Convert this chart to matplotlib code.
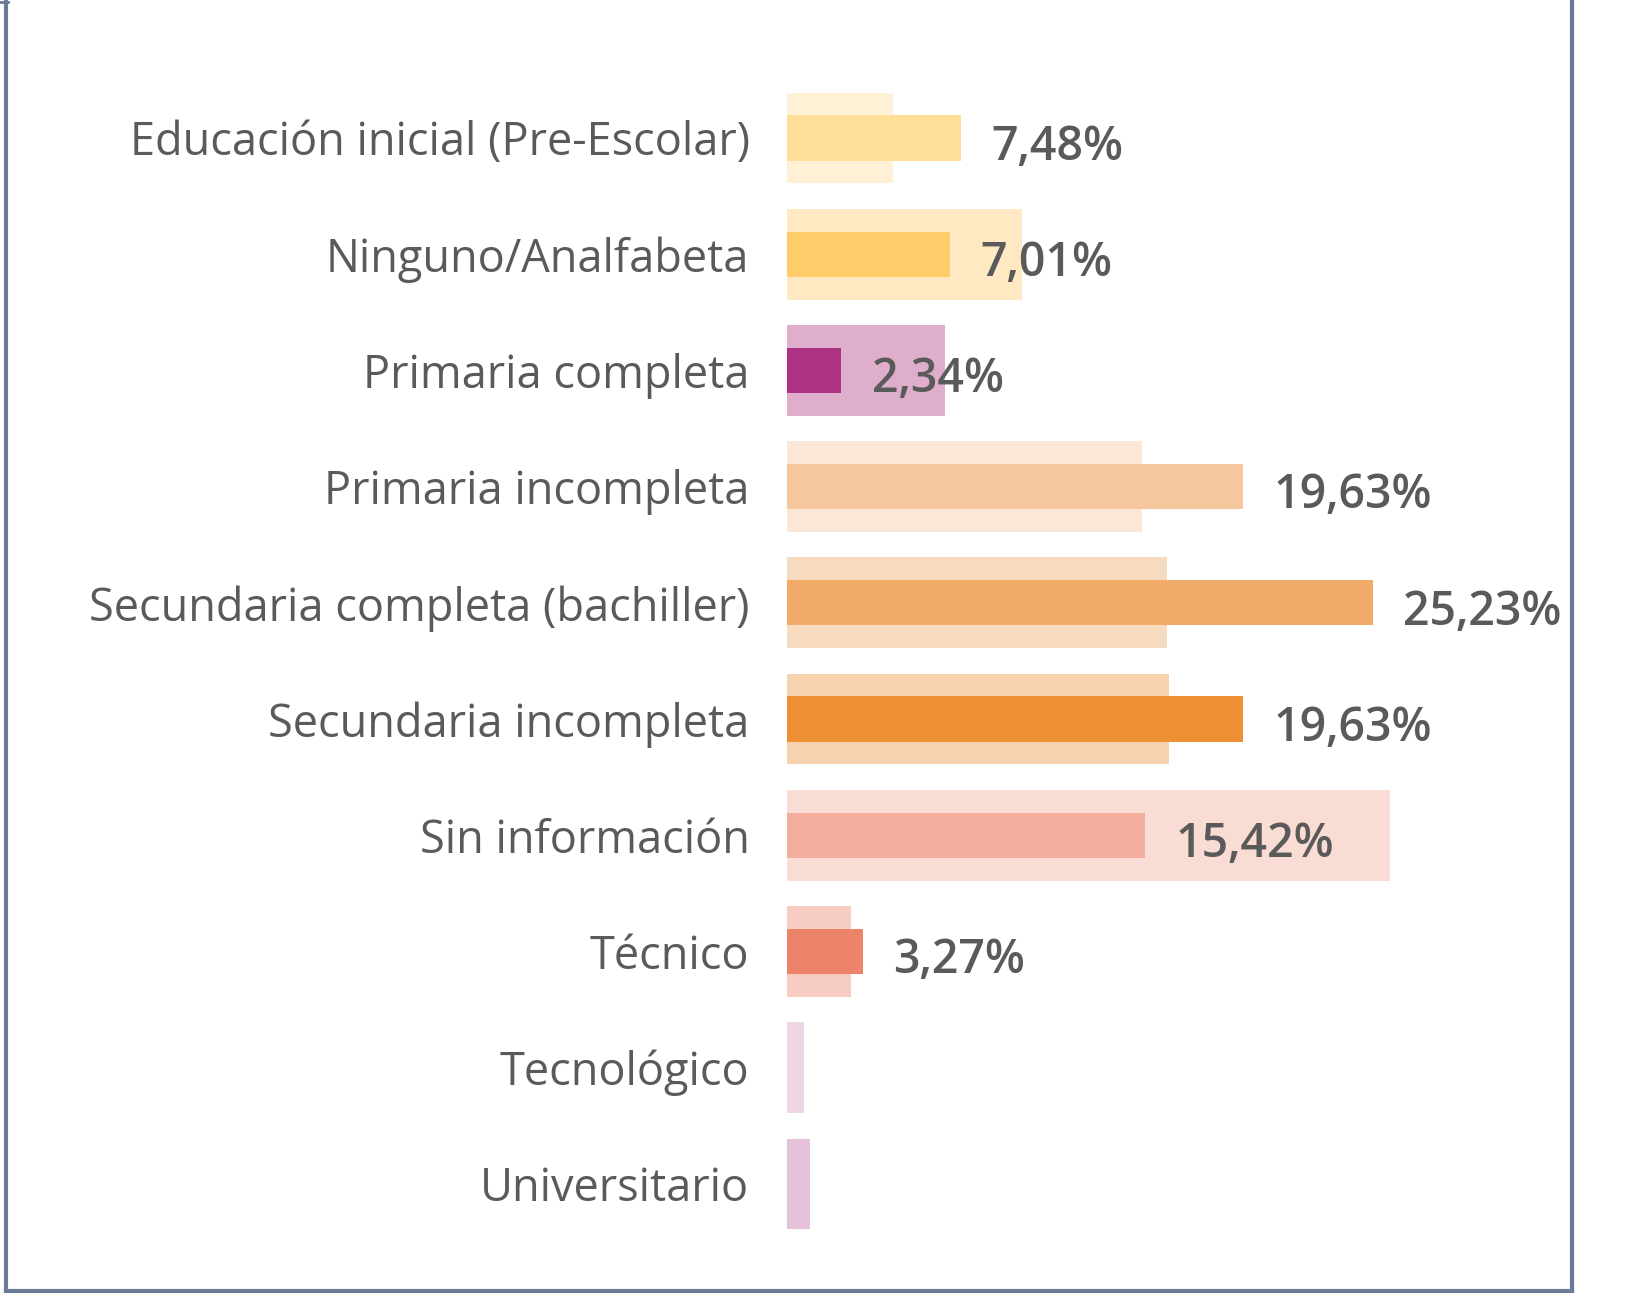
import numpy as np
import matplotlib.pyplot as plt
from matplotlib.lines import Line2D

categories = ["Educación inicial (Pre-Escolar)", "Ninguno/Analfabeta", "Primaria completa",
              "Primaria incompleta", "Secundaria completa (bachiller)", "Secundaria incompleta",
              "Sin información", "Técnico", "Tecnológico", "Universitario"]
values = [7.48, 7.01, 2.34, 19.63, 25.23, 19.63, 15.42, 3.27, 0.0, 0.0]
reference = [4.57, 10.1, 6.79, 15.3, 16.35, 16.44, 25.95, 2.76, 0.72, 1.0]
labels = ["7,48%", "7,01%", "2,34%", "19,63%", "25,23%", "19,63%", "15,42%", "3,27%", "", ""]

fg_colors = ["#FFDE9A", "#FECD6A", "#AE3284", "#F5C79C", "#F0AB68", "#ED8F33",
             "#F3AD9C", "#EC836A", "#EFD6E7", "#E5C2DA"]
bg_colors = ["#FFF0D6", "#FFE9C3", "#DFAECD", "#FAE7D7", "#F7DBBF", "#F6D3AE",
             "#F9DDD5", "#F7CCC1", "#EFD6E7", "#E5C2DA"]

W, H = 1650, 1293
fig = plt.figure(figsize=(W / 100, H / 100), dpi=100)
ax = fig.add_axes([787 / W, 0.0305, 697 / W, 0.9167])

y = np.arange(len(categories))
ax.barh(y, reference, height=0.78, color=bg_colors)
ax.barh(y, values, height=0.39, color=fg_colors)

for i, (v, lab) in enumerate(zip(values, labels)):
    if lab:
        ax.text(v + 1.3, i + 0.08, lab, va="center", ha="left", fontsize=33.5,
                fontweight="semibold", color="#5A5A5A", family="Open Sans")

ax.set_xlim(0, 30)
ax.set_ylim(9.6, -0.6)
ax.set_yticks(y)
ax.set_yticklabels(categories, fontsize=32.5, color="#5A5A5A", family="Open Sans")
ax.tick_params(axis="y", length=0, pad=27)
ax.set_xticks([])
for s in ax.spines.values():
    s.set_visible(False)

# outer frame
fc = "#6B7B96"
fig.add_artist(Line2D([6 / W, 6 / W], [0, 1], transform=fig.transFigure, color=fc, lw=3))
fig.add_artist(Line2D([1572 / W, 1572 / W], [0, 1], transform=fig.transFigure, color=fc, lw=3))
fig.add_artist(Line2D([6 / W, 1572 / W], [2 / H, 2 / H], transform=fig.transFigure, color=fc, lw=3))
fig.add_artist(Line2D([0, 8 / W], [1 - 2 / H, 1 - 2 / H], transform=fig.transFigure, color=fc, lw=2))

fig.savefig("out.png", dpi=100, facecolor="white")
